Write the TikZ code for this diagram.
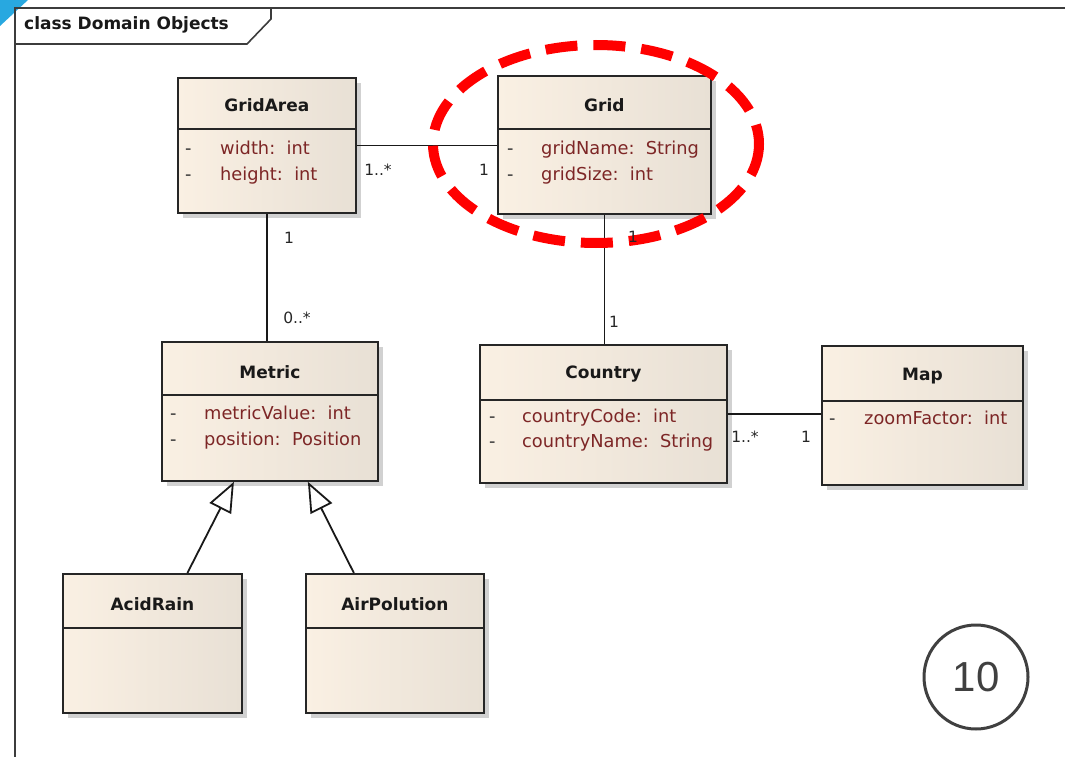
\documentclass[tikz,border=0pt]{standalone}
\usepackage{fontspec}
\setmainfont{DejaVu Sans}
\newfontfamily\numfont{Liberation Sans}
\usetikzlibrary{positioning,arrows.meta,shadows}

\definecolor{classL}{RGB}{250,240,227}
\definecolor{classR}{RGB}{232,224,213}
\definecolor{attrcol}{RGB}{125,38,38}
\definecolor{titlecol}{RGB}{25,25,25}
\definecolor{framecol}{RGB}{60,60,60}
\definecolor{numgray}{RGB}{64,64,64}
\definecolor{slideblue}{RGB}{40,168,224}

\tikzset{
  classbox/.style={draw=black!85, line width=1.8pt, anchor=north west, inner sep=0pt,
    left color=classL, right color=classR,
    drop shadow={shadow xshift=5pt, shadow yshift=-5pt, fill=black!30, opacity=.6}},
  divider/.style={draw=black!85, line width=1.8pt},
  classname/.style={font=\fontsize{17}{20}\selectfont\bfseries, text=titlecol},
  attr/.style={anchor=west, inner sep=0pt, text height=13pt, text depth=4pt,
    font=\fontsize{17.8}{20}\selectfont, text=attrcol},
  vis/.style={anchor=west, inner sep=0pt, text height=13pt, text depth=4pt,
    font=\fontsize{17.8}{20}\selectfont, text=black!80},
  assoc/.style={draw=black!90, line width=1.8pt},
  general/.style={assoc, -{Triangle[open, fill=white, length=30pt, width=24pt]}},
  mult/.style={inner sep=0pt, font=\fontsize{15.5}{18}\selectfont, text=black!85},
  frame/.style={draw=framecol, line width=2.2pt},
  redring/.style={draw=red, line width=10pt, dash pattern=on 32pt off 16pt}
}

\begin{document}
\begin{tikzpicture}[x=1pt,y=-1pt]
\useasboundingbox (0,0) rectangle (1065,757);

% frame
\fill[slideblue] (0,0) -- (28,0) -- (0,26) -- cycle;
\draw[frame] (15,757) -- (15,8) -- (1065,8);
\draw[frame, line width=1.6pt] (15,44) -- (247,44) -- (271,19) -- (271,8);
\node[anchor=west, inner sep=0pt, font=\fontsize{17}{20}\selectfont\bfseries, text=titlecol] (frametitle) at (24,25) {class Domain Objects};

% classes
\node[classbox, minimum width=178pt, minimum height=135pt] (gridarea) at (177,77) {};
\node[classbox, minimum width=213pt, minimum height=138pt] (grid) at (497,75) {};
\node[classbox, minimum width=216pt, minimum height=139pt] (metric) at (161,341) {};
\node[classbox, minimum width=247pt, minimum height=138pt] (country) at (479,344) {};
\node[classbox, minimum width=201pt, minimum height=139pt] (map) at (821,345) {};
\node[classbox, minimum width=179pt, minimum height=139pt] (acidrain) at (62,573) {};
\node[classbox, minimum width=178pt, minimum height=139pt] (airpol) at (305,573) {};

\draw[divider] ([yshift=-52pt]gridarea.north west) -- ([yshift=-52pt]gridarea.north east);
\draw[divider] ([yshift=-54pt]grid.north west) -- ([yshift=-54pt]grid.north east);
\draw[divider] ([yshift=-54pt]metric.north west) -- ([yshift=-54pt]metric.north east);
\draw[divider] ([yshift=-56pt]country.north west) -- ([yshift=-56pt]country.north east);
\draw[divider] ([yshift=-56pt]map.north west) -- ([yshift=-56pt]map.north east);
\draw[divider] ([yshift=-55pt]acidrain.north west) -- ([yshift=-55pt]acidrain.north east);
\draw[divider] ([yshift=-55pt]airpol.north west) -- ([yshift=-55pt]airpol.north east);

\node[classname] (gridarea-t) at ([yshift=-28pt]gridarea.north) {GridArea};
\node[classname] (grid-t) at ([yshift=-30pt]grid.north) {Grid};
\node[classname] (metric-t) at ([yshift=-31pt]metric.north) {Metric};
\node[classname] (country-t) at ([yshift=-30pt]country.north) {Country};
\node[classname] (map-t) at ([yshift=-31pt]map.north) {Map};
\node[classname] (acidrain-t) at ([yshift=-31pt]acidrain.north) {AcidRain};
\node[classname] (airpol-t) at ([yshift=-31pt]airpol.north) {AirPolution};

% attributes
\node[vis] (gridarea-v1) at ([xshift=8pt,yshift=-73pt]gridarea.north west) {-};
\node[attr] (gridarea-a1) at ([xshift=43pt,yshift=-73pt]gridarea.north west) {width:\ \ int};
\node[vis] (gridarea-v2) at ([xshift=8pt,yshift=-99pt]gridarea.north west) {-};
\node[attr] (gridarea-a2) at ([xshift=43pt,yshift=-99pt]gridarea.north west) {height:\ \ int};

\node[vis] (grid-v1) at ([xshift=10pt,yshift=-75pt]grid.north west) {-};
\node[attr] (grid-a1) at ([xshift=44pt,yshift=-75pt]grid.north west) {gridName:\ \ String};
\node[vis] (grid-v2) at ([xshift=10pt,yshift=-101pt]grid.north west) {-};
\node[attr] (grid-a2) at ([xshift=44pt,yshift=-101pt]grid.north west) {gridSize:\ \ int};

\node[vis] (metric-v1) at ([xshift=9pt,yshift=-74pt]metric.north west) {-};
\node[attr] (metric-a1) at ([xshift=43pt,yshift=-74pt]metric.north west) {metricValue:\ \ int};
\node[vis] (metric-v2) at ([xshift=9pt,yshift=-100pt]metric.north west) {-};
\node[attr] (metric-a2) at ([xshift=43pt,yshift=-100pt]metric.north west) {position:\ \ Position};

\node[vis] (country-v1) at ([xshift=10pt,yshift=-74pt]country.north west) {-};
\node[attr] (country-a1) at ([xshift=43pt,yshift=-74pt]country.north west) {countryCode:\ \ int};
\node[vis] (country-v2) at ([xshift=10pt,yshift=-99pt]country.north west) {-};
\node[attr] (country-a2) at ([xshift=43pt,yshift=-99pt]country.north west) {countryName:\ \ String};

\node[vis] (map-v1) at ([xshift=8pt,yshift=-75pt]map.north west) {-};
\node[attr] (map-a1) at ([xshift=43pt,yshift=-75pt]map.north west) {zoomFactor:\ \ int};

% associations
\draw[assoc] (gridarea.east) -- (gridarea.east -| grid.west);
\draw[assoc] (gridarea.south) -- (gridarea.south |- metric.north);
\draw[assoc] (grid.south) -- (grid.south |- country.north);
\draw[assoc] (country.east) -- (country.east -| map.west);

% generalizations
\draw[general] ([xshift=35pt]acidrain.north) -- ([xshift=-36pt]metric.south);
\draw[general] ([xshift=-41pt]airpol.north) -- ([xshift=38pt]metric.south);

% highlight
\draw[redring] (596,144) ellipse [x radius=163, y radius=99];

% multiplicities
\node[mult] (m1) at (378,170) {1..*};
\node[mult] (m2) at (484,170) {1};
\node[mult] (m3) at (289,238) {1};
\node[mult] (m4) at (297,318) {0..*};
\node[mult] (m5) at (633,237) {1};
\node[mult] (m6) at (614,322) {1};
\node[mult] (m7) at (745,437) {1..*};
\node[mult] (m8) at (806,437) {1};

% slide number
\node[circle, draw=numgray, line width=3pt, minimum size=104pt, inner sep=0pt,
  font=\numfont\fontsize{42}{48}\selectfont, text=numgray] (slideno) at (976,677) {10};
\end{tikzpicture}
\end{document}
